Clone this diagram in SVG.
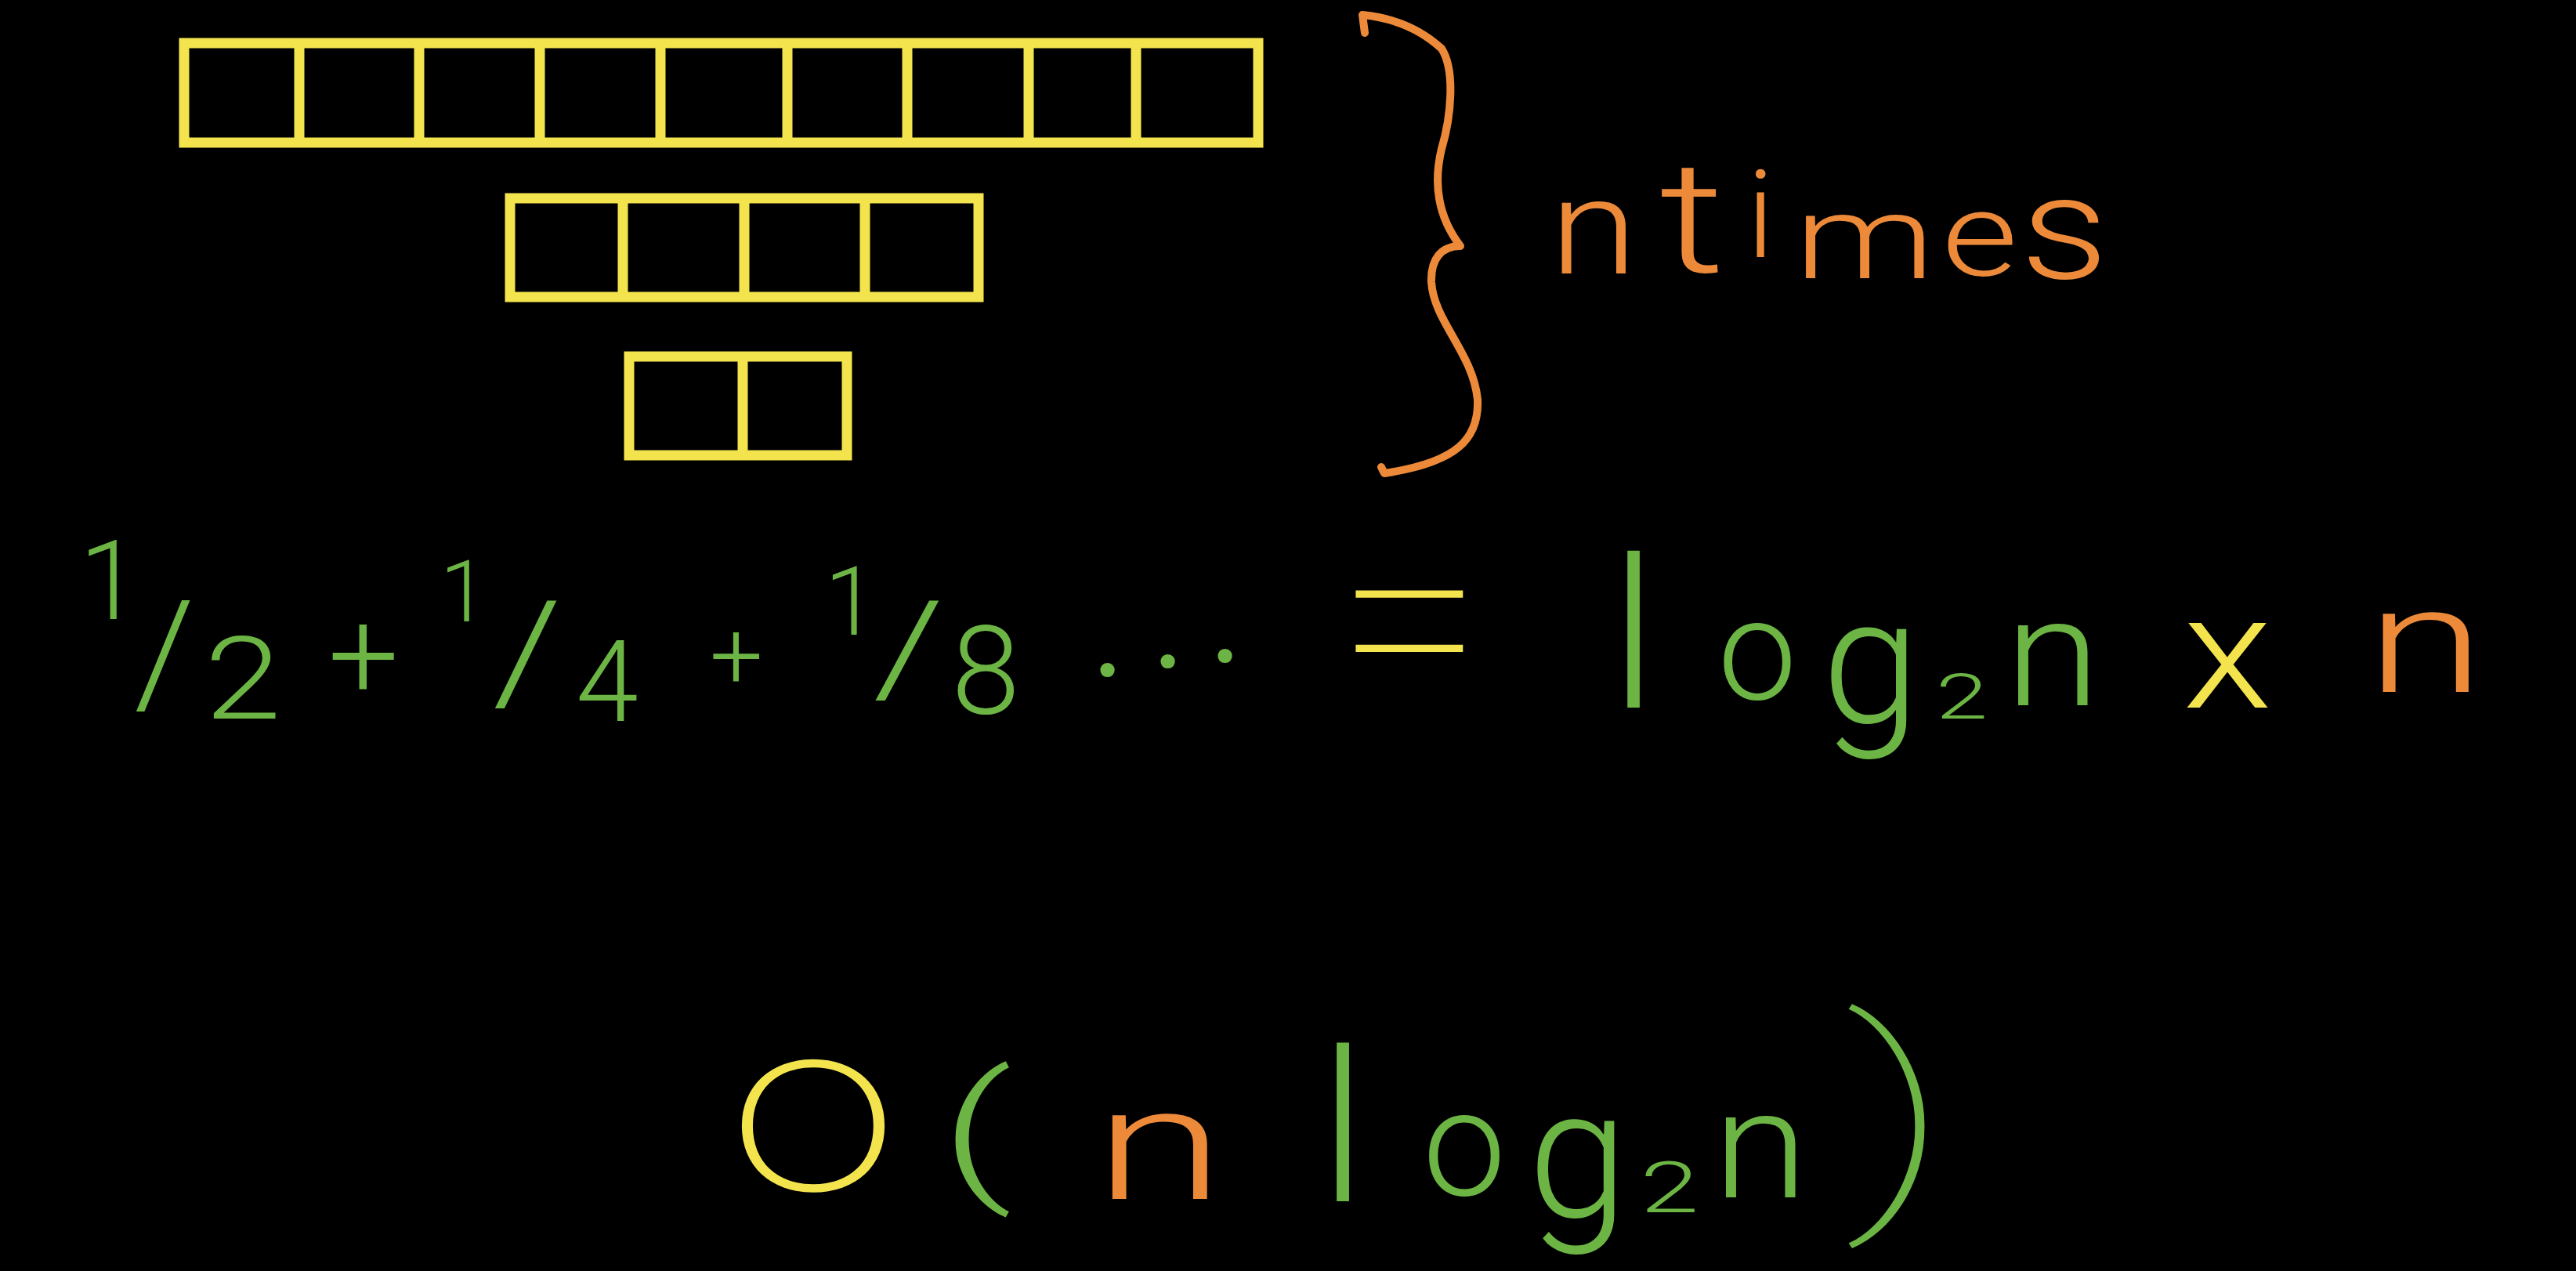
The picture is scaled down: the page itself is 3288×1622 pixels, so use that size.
<svg xmlns="http://www.w3.org/2000/svg" width="3288" height="1622" viewBox="0 0 3288 1622">
<style>
.cell{fill:none;stroke:#f3e44e;stroke-width:13}
.div{stroke:#f3e44e;stroke-width:13}
.t{font-family:Roboto,"Liberation Sans","DejaVu Sans",sans-serif;font-weight:300;text-anchor:middle}
.thin{font-weight:100}
.round{font-family:Lato,"Open Sans","DejaVu Sans",sans-serif;font-weight:300}
.gr{fill:#6cb544}
.or{fill:#ec8a3a}
.ye{fill:#f3e44e}
.brace{fill:none;stroke:#ec8a3a;stroke-width:10;stroke-linecap:round;stroke-linejoin:round}
</style>
<rect x="0" y="0" width="3288" height="1622" fill="#000"/>
<g id="array-8">
<rect class="cell" x="235" y="55" width="1371" height="127"/>
<path class="div" d="M382,55V182M535,55V182M689,55V182M843,55V182M1005,55V182M1158,55V182M1313,55V182M1450,55V182"/>
</g>
<g id="array-4">
<rect class="cell" x="651" y="253" width="598" height="126"/>
<path class="div" d="M795,253V379M950,253V379M1104,253V379"/>
</g>
<g id="array-2">
<rect class="cell" x="803" y="455" width="278" height="126"/>
<path class="div" d="M948,455V581"/>
</g>
<g id="brace">
<path class="brace" d="M1742,42 L1739,19 Q1800,25 1840,62 C1858,90 1852,150 1840,190 C1828,240 1838,280 1864,314 C1840,314 1826,330 1827,360 C1830,410 1880,450 1886,510 C1888,560 1860,590 1767,604 L1763,596"/>
</g>
<g id="label-ntimes" class="t or">
<text transform="translate(2034,349) scale(1.2,1)" font-size="170">n</text>
<text transform="translate(2160,347) scale(1.3,1)" font-size="200">t</text>
<text transform="translate(2247,328)" font-size="156">i</text>
<text transform="translate(2380,355) scale(1.35,1)" font-size="150">m</text>
<text transform="translate(2527,352) scale(1.25,1)" font-size="150">e</text>
<text transform="translate(2635,355) scale(1.2,1)" font-size="185">s</text>
</g>
<g id="equation" class="t">
<g class="gr">
<text transform="translate(140,790)" font-size="141">1</text>
<text transform="translate(210,897) scale(1.07,1)" font-size="183">/</text>
<text transform="translate(310,917) scale(1.2,1)" font-size="147">2</text>
<text transform="translate(464,891)" font-size="160">+</text>
<text transform="translate(592,793)" font-size="110">1</text>
<text transform="translate(673,893) scale(1.26,1)" font-size="178">/</text>
<text transform="translate(775,920)" font-size="144">4</text>
<text transform="translate(940,878)" font-size="120">+</text>
<text transform="translate(1086,810)" font-size="122">1</text>
<text transform="translate(1160,884) scale(1.4,1)" font-size="165">/</text>
<text transform="translate(1258,910)" font-size="158">8</text>
<text x="1415 1492 1565" y="863 852 845" font-size="220">...</text>
</g>
<text class="ye thin" transform="translate(1800,906) scale(1.12,1.16)" font-size="300">=</text>
<g class="gr">
<text transform="translate(2085,903)" font-size="267">l</text>
<text transform="translate(2243,892)" font-size="180">o</text>
<text transform="translate(2388,922)" font-size="225">g</text>
<text transform="translate(2504,917) scale(1.5,1)" font-size="80">2</text>
<text transform="translate(2620,900) scale(1.15,1)" font-size="193">n</text>
</g>
<text class="ye" transform="translate(2843,903) scale(1.15,1)" font-size="204">x</text>
<text class="or" transform="translate(3096,883) scale(1.45,1)" font-size="189">n</text>
</g>
<g id="complexity" class="t">
<text class="ye round" transform="translate(1038,1520) scale(1.15,1)" font-size="235">O</text>
<text class="gr" transform="translate(1246,1509) scale(1.5,1)" font-size="194">(</text>
<text class="or" transform="translate(1480,1530) scale(1.5,1)" font-size="202">n</text>
<g class="gr">
<text transform="translate(1714,1533)" font-size="270">l</text>
<text transform="translate(1869,1525)" font-size="190">o</text>
<text transform="translate(2014,1553)" font-size="230">g</text>
<text transform="translate(2131,1547) scale(1.5,1)" font-size="90">2</text>
<text transform="translate(2247,1528) scale(1.15,1)" font-size="193">n</text>
<text class="thin" transform="translate(2423,1523) scale(1.5,1)" font-size="305">)</text>
</g>
</g>
</svg>
